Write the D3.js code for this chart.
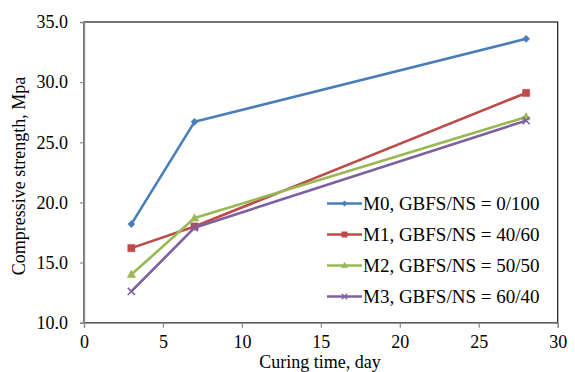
<!DOCTYPE html>
<html><head><meta charset="utf-8">
<script src="https://cdn.jsdelivr.net/npm/d3@7"></script>
<style>
html,body{margin:0;padding:0;background:#fff;}
svg{display:block;}
text{font-family:"Liberation Serif","Times New Roman",serif;fill:#000;}
</style></head>
<body>
<svg id="chart" width="575" height="372"></svg>
<script>
// ---- data ----
const days = [3, 7, 28];
const seriesNames = ["M0, GBFS/NS = 0/100", "M1, GBFS/NS = 40/60", "M2, GBFS/NS = 50/50", "M3, GBFS/NS = 60/40"];
const m0 = [18.2, 26.7, 33.6];
const m1 = [16.2, 18.0, 29.1];
const m2 = [14.0, 18.7, 27.1];
const m3 = [12.6, 17.9, 26.8];
const xTicks = [0, 5, 10, 15, 20, 25, 30];
const yTicks = [10, 15, 20, 25, 30, 35];
const xTitle = "Curing time, day";
const yTitle = "Compressive strength, Mpa";

const colors = ["#4A7EBB", "#BE4B48", "#98B954", "#7D60A0"];
const symbols = ["diamond", "square", "triangle", "cross"];
const seriesVals = [m0, m1, m2, m3];

const svg = d3.select("#chart");
const L = 84, R = 557.7, T = 22, B = 322.7;
const x = d3.scaleLinear().domain([0, 30]).range([L, R]);
const y = d3.scaleLinear().domain([10, 35]).range([B, T]);

// plot frame
svg.append("rect").attr("x", L).attr("y", T).attr("width", R - L).attr("height", B - T)
  .attr("fill", "none").attr("stroke", "#1a1a1a").attr("stroke-width", 1.2);

// axes
const gx = svg.append("g").attr("transform", `translate(0,${B})`)
  .call(d3.axisBottom(x).tickValues(xTicks).tickSize(5).tickPadding(8).tickFormat(d3.format("d")));
const gy = svg.append("g").attr("transform", `translate(${L},0)`)
  .call(d3.axisLeft(y).tickValues(yTicks).tickSize(4).tickPadding(12).tickFormat(d3.format(".1f")));
[gx, gy].forEach(g => {
  g.attr("font-family", null);
  g.select(".domain").attr("stroke", "#8a8a8a").attr("stroke-width", 1.3);
  g.selectAll(".tick line").attr("stroke", "#8a8a8a").attr("stroke-width", 1.2);
  g.selectAll(".tick text").style("font-family", "'Liberation Serif', serif").attr("font-size", 18).attr("fill", "#000");
});
gx.selectAll(".tick text").attr("dy", "0.71em").attr("y", 12.5);

// axis titles
svg.append("text").attr("x", 320).attr("y", 368).attr("text-anchor", "middle")
  .attr("font-size", 18).text(xTitle);
svg.append("text").attr("transform", `translate(25,176) rotate(-90)`).attr("text-anchor", "middle")
  .attr("font-size", 18).text(yTitle);

// marker path
function markerPath(type, s) {
  if (type === "diamond") return `M0,${-s}L${s},0L0,${s}L${-s},0Z`;
  if (type === "square") return `M${-s},${-s}H${s}V${s}H${-s}Z`;
  if (type === "triangle") return `M0,${-s * 1.1}L${s * 1.05},${s * 0.75}L${-s * 1.05},${s * 0.75}Z`;
  return `M${-s},${-s}L${s},${s}M${-s},${s}L${s},${-s}`;
}
const sizes = [3.6, 3.6, 4.0, 3.6];

const line = d3.line().x(d => x(d[0])).y(d => y(d[1]));
seriesVals.forEach((vals, i) => {
  const pts = days.map((d, j) => [d, vals[j]]);
  const g = svg.append("g");
  g.append("path").attr("d", line(pts)).attr("fill", "none")
    .attr("stroke", colors[i]).attr("stroke-width", 2.6).attr("stroke-linejoin", "round");
  g.selectAll("path.m").data(pts).join("path").attr("class", "m")
    .attr("transform", d => `translate(${x(d[0])},${y(d[1])})`)
    .attr("d", markerPath(symbols[i], sizes[i]))
    .attr("fill", symbols[i] === "cross" ? "none" : colors[i])
    .attr("stroke", colors[i]).attr("stroke-width", symbols[i] === "cross" ? 1.6 : 0.5);
});

// legend
const legY0 = 203.5, legDY = 31;
seriesNames.forEach((name, i) => {
  const ly = legY0 + i * legDY;
  const g = svg.append("g");
  g.append("line").attr("x1", 327).attr("x2", 362).attr("y1", ly).attr("y2", ly)
    .attr("stroke", colors[i]).attr("stroke-width", 2.6);
  g.append("path").attr("transform", `translate(344.5,${ly})`)
    .attr("d", markerPath(symbols[i], sizes[i] * 0.75))
    .attr("fill", symbols[i] === "cross" ? "none" : colors[i])
    .attr("stroke", colors[i]).attr("stroke-width", symbols[i] === "cross" ? 1.3 : 0.5);
  g.append("text").attr("x", 363).attr("y", ly + 6.5).attr("font-size", 19).text(name);
});
</script>
</body></html>
